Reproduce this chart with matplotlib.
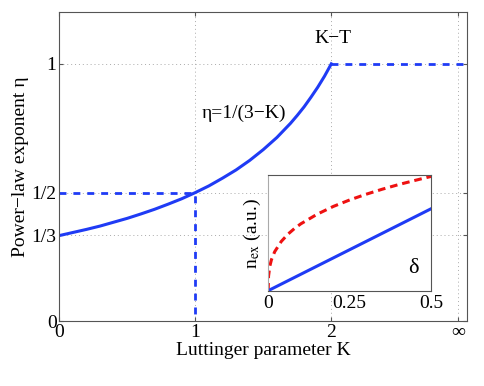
import matplotlib.pyplot as plt

plt.rcParams['font.family'] = ['Liberation Serif', 'DejaVu Serif']
plt.rcParams['mathtext.fontset'] = 'stix'

# main curve eta(K)
K_vals = [0.0, 0.1, 0.2, 0.3, 0.4, 0.5, 0.6, 0.7, 0.8, 0.9, 1.0, 1.1, 1.2,
          1.3, 1.4, 1.5, 1.6, 1.7, 1.75, 1.8, 1.85, 1.9, 1.95, 2.0]
eta_vals = [0.333, 0.345, 0.357, 0.370, 0.385, 0.400, 0.417, 0.435, 0.455,
            0.476, 0.500, 0.526, 0.556, 0.588, 0.625, 0.667, 0.714, 0.769,
            0.800, 0.833, 0.870, 0.909, 0.952, 1.000]
K_flat = [2.0, 3.0]
eta_flat = [1.0, 1.0]
K_half = [0.0, 1.0, 1.0]
eta_half = [0.5, 0.5, 0.0]

x_ticks = [0, 1, 2, 2.93]
x_labels = ['0', '1', '2', '∞']
y_ticks = [0, 1/3, 1/2, 1]
y_labels = ['0', '1/3', '1/2', '1']

# inset
delta = [0.0, 0.001, 0.005, 0.01, 0.02, 0.04, 0.06, 0.08, 0.1, 0.15, 0.2,
         0.25, 0.3, 0.35, 0.4, 0.45, 0.5]
n_red = [0.0, 0.125, 0.213, 0.269, 0.338, 0.426, 0.488, 0.537, 0.579, 0.662,
         0.730, 0.786, 0.835, 0.879, 0.919, 0.955, 0.99]
delta_lin = [0.0, 0.5]
n_blue = [0.0, 0.71]

blue = '#1f3bf5'
red = '#ee1111'
spine = '#555555'

fig = plt.figure(figsize=(4.85, 3.86), dpi=100)
ax = fig.add_axes([0.1223, 0.1676, 0.8412, 0.8004])

ax.plot(K_vals, eta_vals, color=blue, lw=2.2, solid_joinstyle='round')
ax.plot(K_flat, eta_flat, color=blue, lw=2.0, ls=(0, (2.5, 2.5)))
ax.plot(K_half, eta_half, color=blue, lw=2.0, ls=(0, (2.5, 2.5)))

ax.set_xlim(0, 3)
ax.set_ylim(0, 1.2)
ax.set_xticks(x_ticks)
ax.set_xticklabels(x_labels)
ax.set_yticks(y_ticks)
ax.set_yticklabels(y_labels)
ax.grid(True, ls=(0, (1, 3)), color='#aaaaaa', lw=0.7)
ax.tick_params(direction='in', length=3, top=True, right=True, labelsize=14,
               color=spine, pad=2)
for s in ax.spines.values():
    s.set_color(spine)
    s.set_linewidth(0.8)
ax.set_xlabel('Luttinger parameter K', fontsize=14, labelpad=1)
ax.set_ylabel('Power\u2212law exponent η', fontsize=14, labelpad=2)

ax.text(2.01, 1.098, 'K\u2212T', fontsize=14, ha='center', va='center')
ax.text(1.36, 0.807, 'η=1/(3\u2212K)', fontsize=14, ha='center', va='center')

ins = fig.add_axes([0.553, 0.247, 0.336, 0.299])
ins.plot(delta, n_red, color=red, lw=2.2, ls=(0, (2.5, 1.6)))
ins.plot(delta_lin, n_blue, color=blue, lw=2.2)
ins.set_xlim(0, 0.5)
ins.set_ylim(0, 1)
ins.set_xticks([0, 0.25, 0.5])
ins.set_xticklabels(['0', '0.25', '0.5'])
ins.set_yticks([])
ins.tick_params(direction='in', length=0, labelsize=14, pad=3)
for s in ins.spines.values():
    s.set_color(spine)
    s.set_linewidth(0.8)
ins.spines['left'].set_color('#aaaaaa')
ins.set_ylabel(r'n$_{\rm ex}$ (a.u.)', fontsize=14, labelpad=4)
ins.text(0.444, 0.19, 'δ', fontsize=16, ha='center', va='center')

fig.savefig('out.png', dpi=100)
